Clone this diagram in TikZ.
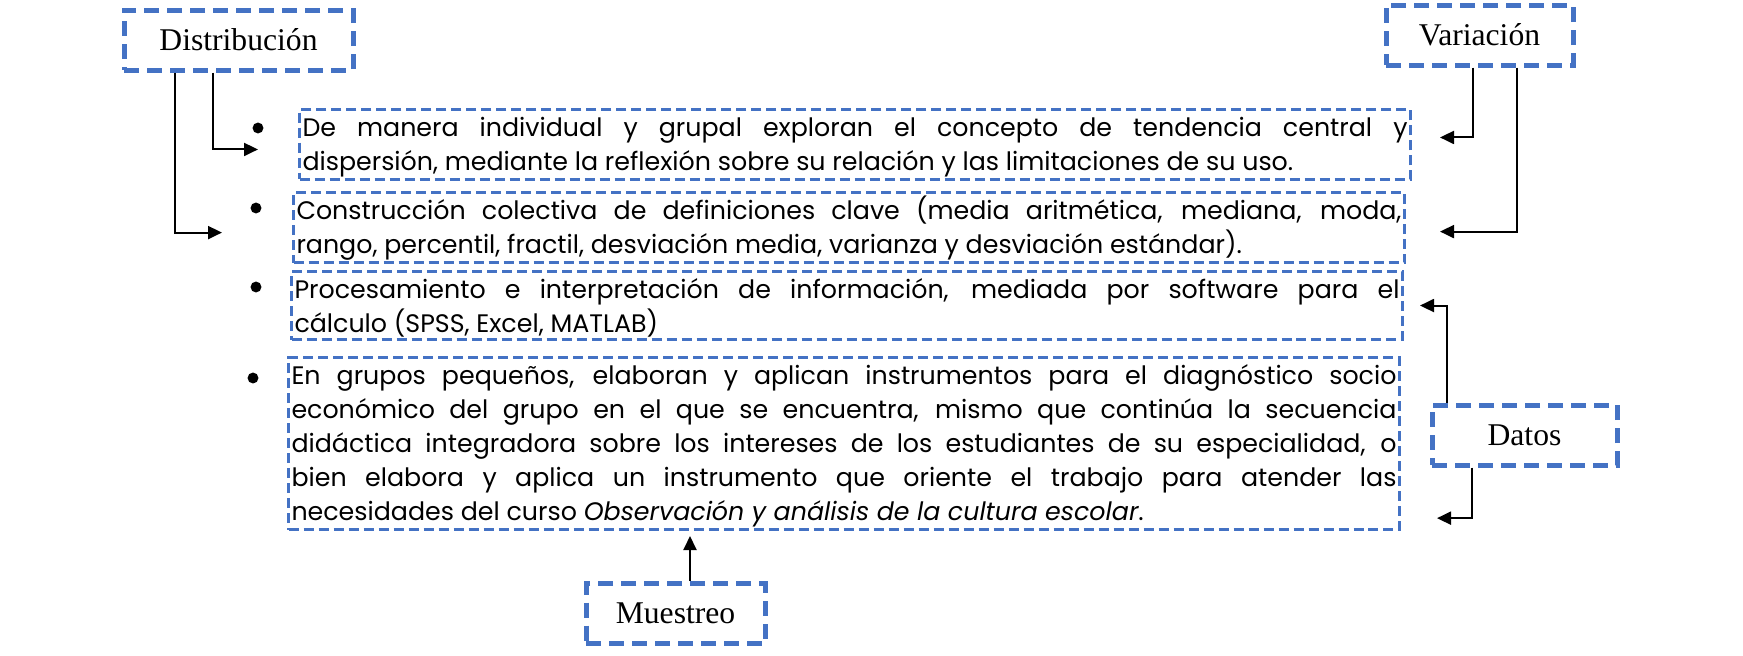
\documentclass[tikz,border=0pt]{standalone}
\usepackage{fontspec}
\setmainfont{Liberation Serif}
\newfontfamily\itemfont{Poppins}
\usetikzlibrary{arrows.meta}
\usetikzlibrary{positioning}
\definecolor{boxblue}{HTML}{4472C4}
\hyphenpenalty=10000
\exhyphenpenalty=10000

\begin{document}
\begin{tikzpicture}
	\tikzset{
	  concept/.style={draw=boxblue,line width=0.5mm,dash pattern=on 1.5mm off 0.8mm,
		minimum width=#1,minimum height=0.6cm,font=\fontsize{9}{11}\selectfont},
	  item/.style={draw=boxblue,line width=0.3mm,dash pattern=on 1mm off 0.5mm,
		text width=11.05cm,inner xsep=0.3mm,inner ysep=0.25mm,align=justify,anchor=north west,
		font=\itemfont\fontsize{7.2}{9.7}\selectfont,execute at begin node={\rule{0pt}{6.9pt}}},
	  dot/.style={circle,inner sep=1.1pt,fill=black},
	  link/.style={line width=0.2mm,-{Triangle[length=1.4mm,width=1.3mm]}}
	}
	\useasboundingbox (0,0) rectangle (17.43,-6.55);
	%CONCEPTS
	\node[concept=2.29cm] (distribucion) at (2.385,-0.40) {Distribución};
	\node[concept=1.87cm] (variacion) at (14.795,-0.35) {Variación};
	\node[concept=1.85cm] (datos) at (15.245,-4.35) {Datos};
	\node[concept=1.79cm] (muestreo) at (6.755,-6.135) {Muestreo};
	%ITEMS
	\node[item] (a) at (2.98,-1.08) {De manera individual y grupal exploran el concepto de tendencia central y\linebreak
	  dispersión, mediante la reflexión sobre su relación y las limitaciones de su uso.};
	\node[item] (b) at (2.92,-1.91) {Construcción colectiva de definiciones clave (media aritmética, mediana, moda,\linebreak
	  rango, percentil, fractil, desviación media, varianza y desviación estándar).};
	\node[item] (c) at (2.90,-2.70) {Procesamiento e interpretación de información, mediada por software para el\linebreak
	  cálculo (SPSS, Excel, MATLAB)};
	\node[item] (d) at (2.87,-3.56) {En grupos pequeños, elaboran y aplican instrumentos para el diagnóstico socio\linebreak
	  económico del grupo en el que se encuentra, mismo que continúa la secuencia\linebreak
	  didáctica integradora sobre los intereses de los estudiantes de su especialidad, o\linebreak
	  bien elabora y aplica un instrumento que oriente el trabajo para atender las\linebreak
	  necesidades del curso \textit{Observación y análisis de la cultura escolar}.};
	%BULLETS
	\foreach \i/\x/\y in {1/2.58/-1.28,2/2.56/-2.08,3/2.56/-2.87,4/2.53/-3.78}{
	  \node[dot] (dot\i) at (\x,\y) {};
	}
	%ARROWS
	\draw[link] ([xshift=-2.55mm]distribucion.south) |- ([xshift=-4mm,yshift=-0.5mm]a.west);
	\draw[link] ([xshift=-6.35mm]distribucion.south) |- ([xshift=-7mm,yshift=-0.5mm]b.west);
	\draw[link] ([xshift=-0.65mm]variacion.south) |- ([xshift=2.8mm,yshift=0.7mm]a.east);
	\draw[link] ([xshift=3.75mm]variacion.south) |- ([xshift=3.4mm,yshift=-0.4mm]b.east);
	\draw[link] ([xshift=-7.75mm]datos.north) |- ([xshift=1.6mm]c.east);
	\draw[link] ([xshift=-5.25mm]datos.south) |- ([xshift=3.6mm,yshift=1.3mm]d.south east);
	\draw[link] ([xshift=1.45mm]muestreo.north) -- ([xshift=1.45mm,yshift=4.5mm]muestreo.north);
\end{tikzpicture}
\end{document}
